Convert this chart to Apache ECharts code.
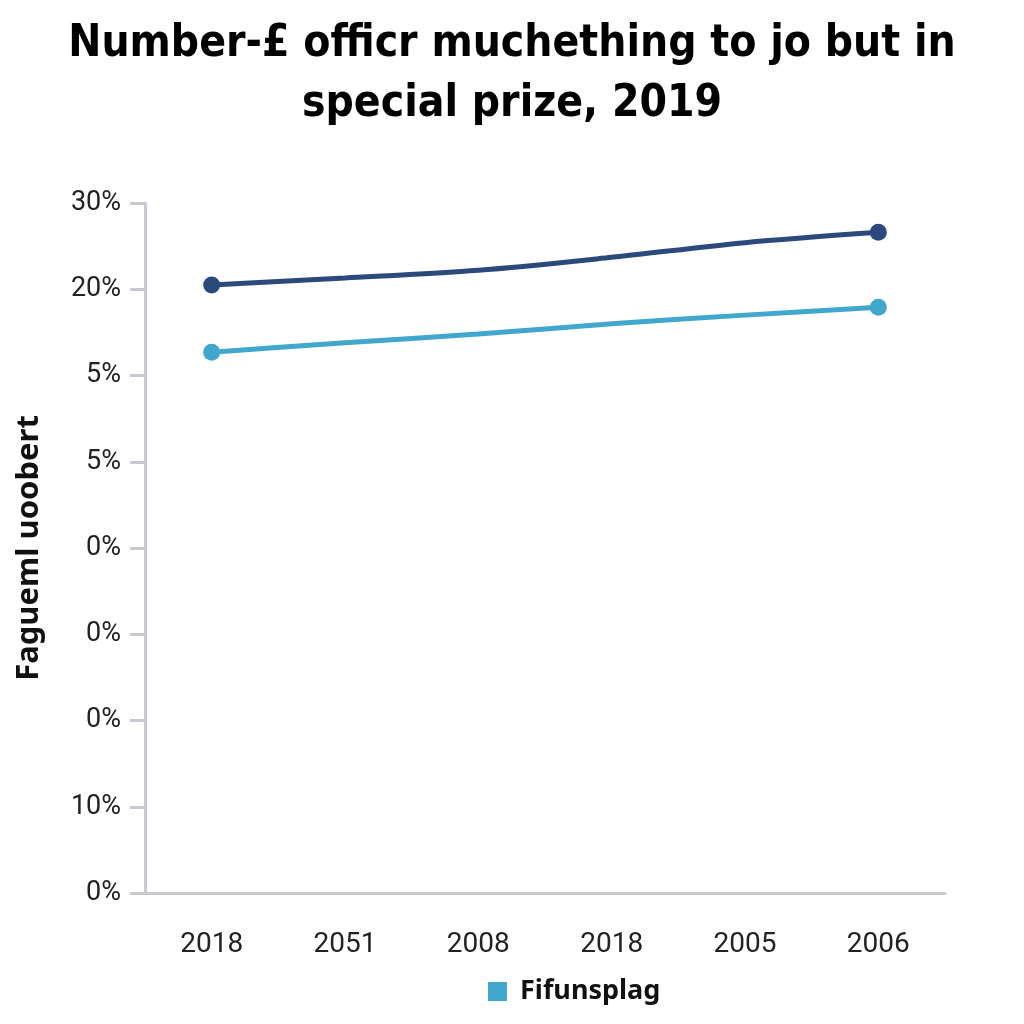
<!DOCTYPE html>
<html><head><meta charset="utf-8">
<script src="https://cdn.jsdelivr.net/npm/echarts@6/dist/echarts.min.js"></script>
<style>html,body{margin:0;padding:0;background:#fff}#c{width:1024px;height:1024px}</style>
</head><body><div id="c"></div>
<script>
const titleText = 'Number-\u00A3 officr muchething to jo but in\nspecial prize, 2019';
const categories = ['2018', '2051', '2008', '2018', '2005', '2006'];
const yTickLabels = ['0%', '10%', '0%', '0%', '0%', '5%', '5%', '20%', '30%'];
const yAxisName = 'Fagueml uoobert';
const darkName = 'Series A';
const darkValues = [7.05, 7.13, 7.22, 7.37, 7.54, 7.66];
const lightName = 'Fifunsplag';
const lightValues = [6.27, 6.38, 6.48, 6.60, 6.70, 6.79];

const chart = echarts.init(document.getElementById('c'));
const endSym = (v, p) => (p.dataIndex === 0 || p.dataIndex === categories.length - 1) ? 17 : 0;
chart.setOption({
  backgroundColor: '#fff',
  title: {
    text: titleText, left: 'center', top: 10,
    textStyle: { fontFamily: '"DejaVu Sans Condensed", "DejaVu Sans", sans-serif', fontWeight: 'bold', fontSize: 44, lineHeight: 60, color: '#000' }
  },
  grid: { left: 145, right: 79, top: 203, bottom: 131, containLabel: false, outerBoundsMode: 'none' },
  legend: {
    data: [lightName], bottom: 14, left: 483, itemWidth: 19, itemHeight: 19, icon: 'rect', itemGap: 10,
    textStyle: { fontFamily: 'Noto Sans', fontWeight: 'bold', fontSize: 27, color: '#111', padding: [0, 0, 0, 8] }
  },
  xAxis: {
    type: 'category', data: categories, boundaryGap: true,
    axisLine: { lineStyle: { color: '#c9c9d3', width: 3 } },
    axisTick: { alignWithLabel: true, length: 20, lineStyle: { color: '#c9c9d3', width: 3 } },
    axisLabel: { margin: 38, fontFamily: 'Roboto', fontSize: 28, color: '#222' },
    splitLine: { show: false }
  },
  yAxis: {
    type: 'value', min: 0, max: 8, interval: 1,
    name: yAxisName, nameLocation: 'middle', nameGap: 100, nameRotate: 90,
    nameTextStyle: { fontFamily: 'Noto Sans', fontWeight: 'bold', fontSize: 31, color: '#111' },
    axisLine: { show: true, lineStyle: { color: '#c9c9d3', width: 3 } },
    axisTick: { show: true, length: 15, lineStyle: { color: '#c9c9d3', width: 3 } },
    axisLabel: { margin: 24, fontFamily: 'Roboto', fontSize: 27, color: '#222',
      formatter: (v) => yTickLabels[Math.round(v)] },
    splitLine: { show: false }
  },
  series: [
    { name: darkName, type: 'line', data: darkValues, smooth: 0.3, symbol: 'circle', symbolSize: endSym,
      lineStyle: { width: 5, color: '#2b4a7b' }, itemStyle: { color: '#2b4a7b' } },
    { name: lightName, type: 'line', data: lightValues, smooth: 0.3, symbol: 'circle', symbolSize: endSym,
      lineStyle: { width: 5, color: '#42a7cd' }, itemStyle: { color: '#42a7cd' } }
  ]
});
</script></body></html>
